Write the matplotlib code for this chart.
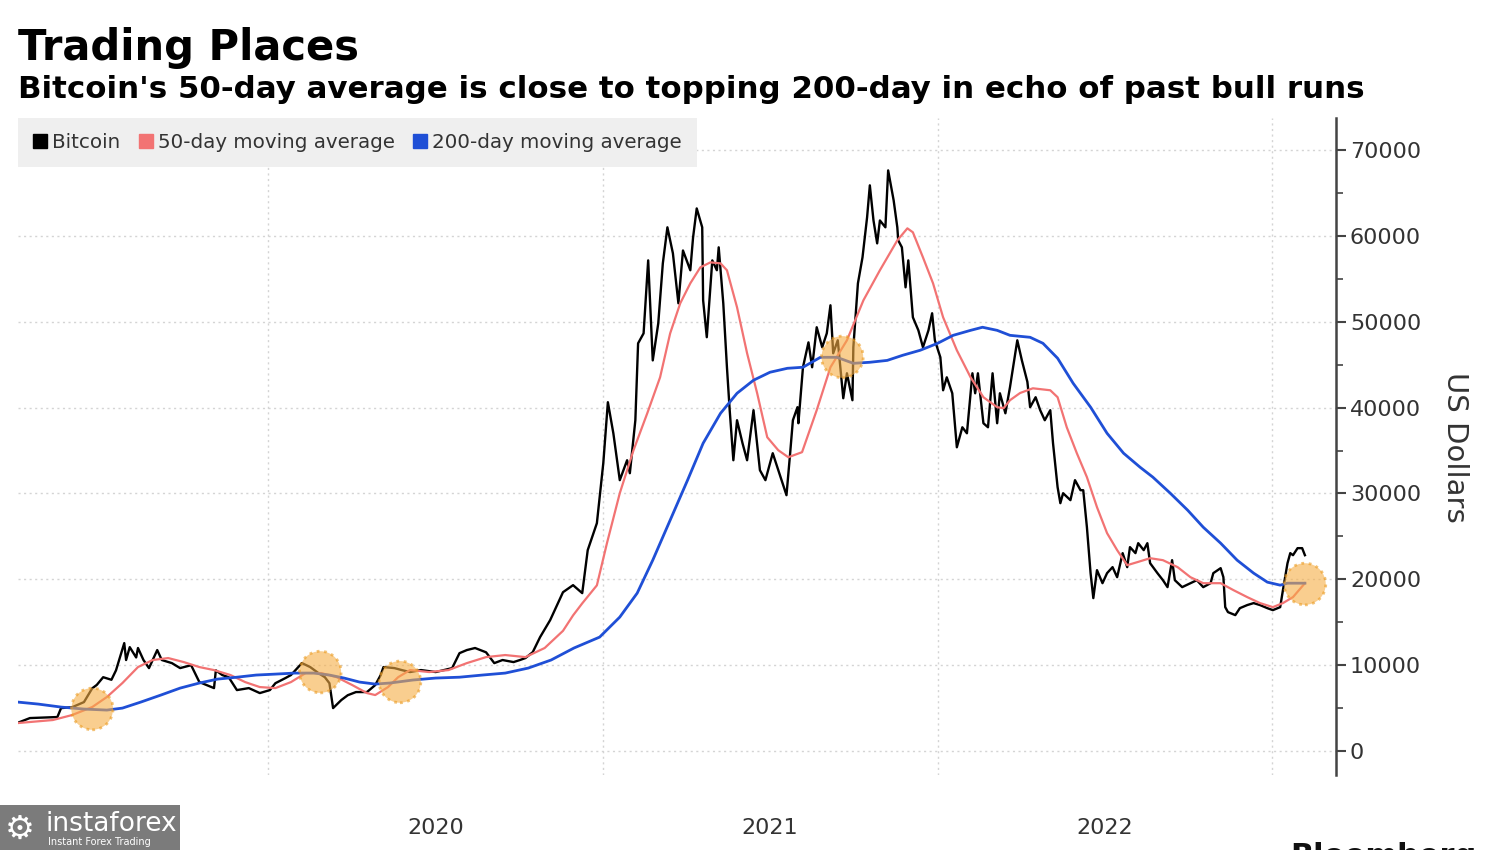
import pandas as pd
import matplotlib
matplotlib.use("Agg")
import matplotlib.pyplot as plt
import matplotlib.dates as mdates
from matplotlib.lines import Line2D
from matplotlib.patches import Rectangle
from matplotlib.ticker import MultipleLocator, FixedLocator

# Bitcoin price (USD)
bitcoin_dates = [
    "2019-04-03", "2019-04-16", "2019-05-16", "2019-05-20", "2019-06-01", "2019-06-14", "2019-06-23",
    "2019-06-28", "2019-07-05", "2019-07-14", "2019-07-19", "2019-07-28", "2019-07-30", "2019-08-03",
    "2019-08-10", "2019-08-12", "2019-08-18", "2019-08-24", "2019-09-02", "2019-09-07", "2019-09-18",
    "2019-09-27", "2019-10-09", "2019-10-18", "2019-11-03", "2019-11-05", "2019-11-12", "2019-11-19",
    "2019-11-28", "2019-12-11", "2019-12-23",
    "2020-01-03", "2020-01-09", "2020-01-20", "2020-01-26", "2020-02-07", "2020-02-16", "2020-02-25",
    "2020-03-03", "2020-03-08", "2020-03-12", "2020-03-21", "2020-03-28", "2020-04-06", "2020-04-18",
    "2020-04-27", "2020-05-03", "2020-05-06", "2020-05-18", "2020-05-26", "2020-06-04", "2020-06-16",
    "2020-07-02", "2020-07-20", "2020-07-28", "2020-08-05", "2020-08-14", "2020-08-26", "2020-09-04",
    "2020-09-13", "2020-09-25", "2020-10-02", "2020-10-08", "2020-10-16", "2020-10-24", "2020-11-04",
    "2020-11-18", "2020-11-29", "2020-12-09", "2020-12-15", "2020-12-25",
    "2021-01-01", "2021-01-06", "2021-01-12", "2021-01-19", "2021-01-27", "2021-01-30",
    "2021-02-05", "2021-02-08", "2021-02-14", "2021-02-19", "2021-02-24",
    "2021-03-02", "2021-03-07", "2021-03-12", "2021-03-18", "2021-03-24", "2021-03-29",
    "2021-04-06", "2021-04-09", "2021-04-13", "2021-04-19", "2021-04-20", "2021-04-24", "2021-04-30",
    "2021-05-05", "2021-05-07", "2021-05-12", "2021-05-16", "2021-05-19", "2021-05-23", "2021-05-27",
    "2021-06-02", "2021-06-07", "2021-06-14", "2021-06-21", "2021-06-27",
    "2021-07-05", "2021-07-10", "2021-07-20", "2021-07-24", "2021-07-27",
    "2021-08-01", "2021-08-02", "2021-08-07", "2021-08-13", "2021-08-17", "2021-08-22", "2021-08-28",
    "2021-09-02", "2021-09-06", "2021-09-09", "2021-09-14", "2021-09-20", "2021-09-24", "2021-09-30",
    "2021-10-01", "2021-10-06", "2021-10-11", "2021-10-16", "2021-10-19", "2021-10-23", "2021-10-27",
    "2021-10-30", "2021-11-05", "2021-11-08", "2021-11-14", "2021-11-18", "2021-11-19", "2021-11-23",
    "2021-11-27", "2021-11-30", "2021-12-05", "2021-12-11", "2021-12-16", "2021-12-22", "2021-12-26",
    "2021-12-29",
    "2022-01-04", "2022-01-07", "2022-01-11", "2022-01-17", "2022-01-22", "2022-01-28",
    "2022-02-02", "2022-02-08", "2022-02-11", "2022-02-14", "2022-02-20", "2022-02-25",
    "2022-03-02", "2022-03-07", "2022-03-10", "2022-03-16", "2022-03-21", "2022-03-29",
    "2022-04-03", "2022-04-09", "2022-04-12", "2022-04-18", "2022-04-23", "2022-04-28",
    "2022-05-04", "2022-05-07", "2022-05-12", "2022-05-15", "2022-05-18", "2022-05-26", "2022-05-31",
    "2022-06-06", "2022-06-09", "2022-06-13", "2022-06-17", "2022-06-20", "2022-06-24", "2022-06-30",
    "2022-07-05", "2022-07-11", "2022-07-16", "2022-07-22", "2022-07-27", "2022-07-30",
    "2022-08-05", "2022-08-08", "2022-08-14", "2022-08-18", "2022-08-21", "2022-08-29",
    "2022-09-04", "2022-09-09", "2022-09-14", "2022-09-17", "2022-09-25",
    "2022-10-04", "2022-10-11", "2022-10-18", "2022-10-26", "2022-10-29",
    "2022-11-06", "2022-11-09", "2022-11-11", "2022-11-14", "2022-11-22", "2022-11-27",
    "2022-12-05", "2022-12-12", "2022-12-19", "2022-12-27",
    "2023-01-02", "2023-01-10", "2023-01-13", "2023-01-18", "2023-01-21", "2023-01-24", "2023-01-29",
    "2023-02-03", "2023-02-06",
]
bitcoin_usd = [
    3300, 3840, 3960, 5000, 5100, 5700, 7300, 7700, 8600, 8300, 9400, 12570, 10600, 12100,
    10900, 12000, 10600, 9660, 11760, 10600, 10240, 9660, 10000, 8030, 7330, 9400, 8850, 8600,
    7100, 7330, 6750,
    7100, 7900, 8500, 8850, 10240, 9780, 9080, 8600, 7900, 5000, 5940, 6500, 6870, 6870,
    7680, 8850, 9780, 9660, 9430, 9200, 9430, 9200, 9660, 11400, 11760, 12000, 11500, 10240,
    10600, 10360, 10600, 10830, 11520, 13270, 15250, 18500, 19320, 18390, 23400, 26540,
    33530, 40630, 37000, 31550, 33870, 32360,
    38530, 47490, 48650, 57150, 45500,
    49800, 56800, 61000, 57970, 52150, 58300,
    56000, 59800, 63200, 61000, 52500, 48200, 57150,
    56000, 58670, 52150, 44700, 39700, 33870, 38530,
    35850, 33870, 39700, 32710, 31550,
    34690, 33060, 29800, 34690, 38530,
    40050, 38180, 44700, 47600, 44700, 49360, 47030,
    48650, 51920, 46330, 47840, 41090, 44000, 40860,
    47030, 54480, 57500, 62160, 65890, 61800, 59130,
    61800, 61000, 67630, 64140, 61000, 59480, 58670,
    54010, 57150, 50520, 49000, 47030, 49000, 50990,
    47840,
    45860, 42020, 43530, 41670, 35380, 37710,
    37010, 44000, 41670, 44000, 38180, 37710,
    44000, 38180, 41670, 39340, 42370, 47840,
    45500, 43000, 40050, 41210, 39700, 38530,
    39700, 35850, 30730, 28870, 30030, 29220, 31550,
    30380, 30380, 26070, 20720, 17810, 21070, 19550,
    20720, 21420, 20250, 23050, 21420, 23750,
    23050, 24210, 23400, 24210, 21880, 20720,
    19900, 19090, 22230, 19900, 19090,
    19550, 19900, 19090, 19550, 20720,
    21300, 20250, 16760, 16180, 15830, 16640,
    17000, 17230, 17000, 16640,
    16410, 16760, 18740, 21880, 23050, 22810, 23630,
    23630, 22810,
]

# 50-day moving average
ma50_dates = [
    "2019-04-03", "2019-05-11", "2019-06-01", "2019-06-23", "2019-07-09", "2019-07-26", "2019-08-12",
    "2019-08-28", "2019-09-14", "2019-10-01", "2019-10-18", "2019-11-03", "2019-11-21", "2019-12-07",
    "2019-12-23", "2020-01-09", "2020-01-26", "2020-02-11", "2020-02-28", "2020-03-16", "2020-04-02",
    "2020-04-18", "2020-04-27", "2020-05-11", "2020-05-22", "2020-06-04", "2020-06-25", "2020-07-16",
    "2020-08-05", "2020-08-26", "2020-09-16", "2020-10-08", "2020-10-29", "2020-11-18", "2020-11-29",
    "2020-12-09", "2020-12-25", "2021-01-05", "2021-01-19", "2021-02-03", "2021-02-18", "2021-03-04",
    "2021-03-15", "2021-03-26", "2021-04-06", "2021-04-17", "2021-04-28", "2021-05-09", "2021-05-16",
    "2021-05-27", "2021-06-07", "2021-06-18", "2021-06-29", "2021-07-11", "2021-07-22", "2021-08-06",
    "2021-08-22", "2021-09-06", "2021-09-24", "2021-10-12", "2021-10-30", "2021-11-18", "2021-11-29",
    "2021-12-05", "2021-12-16", "2021-12-27", "2022-01-07", "2022-01-22", "2022-02-06", "2022-02-20",
    "2022-03-07", "2022-03-14", "2022-03-21", "2022-04-01", "2022-04-15", "2022-05-04", "2022-05-12",
    "2022-05-22", "2022-06-02", "2022-06-13", "2022-06-24", "2022-07-05", "2022-07-16", "2022-07-27",
    "2022-08-07", "2022-08-21", "2022-09-04", "2022-09-20", "2022-10-04", "2022-10-18", "2022-11-06",
    "2022-11-20", "2022-12-05", "2022-12-19", "2023-01-02", "2023-01-13", "2023-01-24", "2023-02-06",
]
ma50_usd = [
    3260, 3610, 4190, 5120, 6290, 7920, 9780,
    10600, 10830, 10360, 9780, 9430, 8850, 8030,
    7450, 7330, 8030, 9080, 9080, 8600, 7680,
    6750, 6520, 7450, 8600, 9430, 9200, 9430,
    10240, 10940, 11180, 10940, 12000, 14000, 15800,
    17200, 19300, 24210, 30030, 35040, 39340, 43530,
    48650, 52150, 54480, 56340, 56920, 56800, 56000,
    51690, 46330, 41670, 36550, 35040, 34220, 34810,
    39700, 44700, 47840, 52500, 56000, 59480, 60880,
    60420, 57500, 54480, 50520, 46680, 43530, 41210,
    40050, 39930, 40860, 41700, 42250, 42020, 41210,
    37710, 34690, 31900, 28400, 25380, 23400, 21650,
    22000, 22460, 22230, 21420, 20250, 19550, 19550,
    18740, 17930, 17230, 16760, 17230, 17930, 19550,
]

# 200-day moving average
ma200_dates = [
    "2019-04-03", "2019-04-25", "2019-05-20", "2019-06-14", "2019-07-09", "2019-07-26", "2019-08-15",
    "2019-09-06", "2019-09-27", "2019-10-18", "2019-11-07", "2019-11-28", "2019-12-19", "2020-01-09",
    "2020-01-30", "2020-02-20", "2020-03-08", "2020-03-24", "2020-04-10", "2020-04-27", "2020-05-13",
    "2020-06-07", "2020-07-02", "2020-07-28", "2020-08-22", "2020-09-16", "2020-10-11", "2020-11-05",
    "2020-11-30", "2020-12-28", "2021-01-19", "2021-02-07", "2021-02-24", "2021-03-15", "2021-04-03",
    "2021-04-20", "2021-05-09", "2021-05-27", "2021-06-14", "2021-07-02", "2021-07-21", "2021-08-07",
    "2021-08-26", "2021-09-13", "2021-10-01", "2021-10-19", "2021-11-07", "2021-11-24", "2021-12-13",
    "2022-01-01", "2022-01-18", "2022-02-06", "2022-02-19", "2022-03-07", "2022-03-21", "2022-04-12",
    "2022-04-26", "2022-05-12", "2022-05-29", "2022-06-17", "2022-07-05", "2022-07-23", "2022-08-10",
    "2022-08-24", "2022-09-12", "2022-10-01", "2022-10-18", "2022-11-06", "2022-11-24", "2022-12-12",
    "2022-12-27", "2023-01-10", "2023-01-18", "2023-02-06",
]
ma200_usd = [
    5700, 5470, 5120, 4890, 4770, 5000, 5700,
    6520, 7330, 7920, 8380, 8600, 8850, 8960,
    9080, 9080, 8850, 8500, 8030, 7800, 7920,
    8270, 8500, 8600, 8850, 9080, 9660, 10600,
    12000, 13270, 15600, 18390, 22230, 26890, 31550,
    35850, 39340, 41670, 43190, 44120, 44580, 44700,
    45860, 45860, 45160, 45280, 45500, 46100, 46680,
    47490, 48420, 49000, 49360, 49000, 48420, 48190,
    47490, 45750, 42830, 40050, 37010, 34690, 33060,
    31900, 30030, 28050, 26070, 24210, 22230, 20720,
    19670, 19320, 19550, 19550,
]

# highlighted crossovers of the two averages
cross_dates = ["2019-06-23", "2020-02-27", "2020-05-24", "2021-09-19", "2023-02-06"]
cross_usd = [4900, 9200, 8050, 45900, 19450]

# year labels sit in the middle of each year
year_label_dates = ["2020-07-02", "2021-07-02", "2022-07-02"]

legend_labels = ["Bitcoin", "50-day moving average", "200-day moving average"]
line_colors = ["#000000", "#f27373", "#1f4fd6"]

plt.rcParams['font.family'] = ['DejaVu Sans']

fig = plt.figure(figsize=(15, 8.5), dpi=100)
ax = fig.add_axes([0.012, 0.0882, 0.8787, 0.7729])

ax.plot(pd.to_datetime(bitcoin_dates), bitcoin_usd, color=line_colors[0], lw=1.7, zorder=3)
ax.plot(pd.to_datetime(ma50_dates), ma50_usd, color=line_colors[1], lw=1.6, zorder=4)
ax.plot(pd.to_datetime(ma200_dates), ma200_usd, color=line_colors[2], lw=2.0, zorder=4)
ax.scatter(pd.to_datetime(cross_dates), cross_usd, s=900, color='#f6ae45', alpha=0.6,
           edgecolors='#eb9a1e', linewidths=2, linestyles=':', zorder=5)

# axes range
ax.set_xlim(pd.Timestamp("2019-04-03"), pd.Timestamp("2023-03-12"))
ax.set_ylim(-2795, 73725)

# y axis on the right
for side in ['top', 'left', 'bottom']:
    ax.spines[side].set_visible(False)
ax.spines['right'].set_color('#444444')
ax.spines['right'].set_linewidth(1.8)
ax.yaxis.tick_right()
ax.set_yticks(range(0, 70001, 10000))
ax.yaxis.set_minor_locator(MultipleLocator(5000))
ax.tick_params(axis='y', which='major', length=7, width=1.5, color='#444444',
               labelsize=16, labelcolor='#333333', pad=3)
ax.tick_params(axis='y', which='minor', length=5, width=1.2, color='#444444')

# year boundaries as grid lines, year labels in the middle
ax.xaxis.set_major_locator(mdates.YearLocator())
ax.xaxis.set_major_formatter(plt.NullFormatter())
ax.xaxis.set_minor_locator(FixedLocator(mdates.date2num(pd.to_datetime(year_label_dates))))
ax.xaxis.set_minor_formatter(mdates.DateFormatter('%Y'))
ax.tick_params(axis='x', which='major', length=0)
ax.tick_params(axis='x', which='minor', length=0, pad=31, labelsize=16, labelcolor='#333333')

ax.grid(True, which='major', linestyle=(0, (1.5, 2.5)), color='#d4d4d4', lw=1)

# legend
handles = [Line2D([], [], marker='s', ls='none', markersize=10, color=c) for c in line_colors]
leg = ax.legend(handles, legend_labels, loc='upper left', bbox_to_anchor=(0, 1), ncol=3,
                frameon=True, facecolor='#efefef', edgecolor='none', fancybox=False,
                fontsize=14.3, handlelength=0.7, handletextpad=0.25, columnspacing=0.95,
                borderpad=0.75, borderaxespad=0, labelcolor='#333333')
leg.get_frame().set_alpha(1)

# titles and axis label
fig.text(18 / 1500, 1 - 60 / 850, "Trading Places", fontsize=30, fontweight='bold', va='baseline')
fig.text(18 / 1500, 1 - 98 / 850,
         "Bitcoin's 50-day average is close to topping 200-day in echo of past bull runs",
         fontsize=22.2, fontweight='bold', va='baseline')
fig.text(1455 / 1500, 1 - 447 / 850, "US Dollars", rotation=270, ha='center', va='center',
         fontsize=21, color='#333333')

# source logo, cut off at the bottom edge as in the original
fig.text(1290 / 1500, 1 - 842 / 850, "Bloomberg", fontsize=22, fontweight='bold', va='top', color='#111111')

# watermark
fig.patches.append(Rectangle((0, 0), 180 / 1500, 45 / 850, transform=fig.transFigure,
                             facecolor='#7b7b7b', edgecolor='none', zorder=1))
fig.text(5 / 1500, 1 - 829 / 850, "\u2699", fontsize=24, color='white', va='center', zorder=2)
fig.text(46 / 1500, 1 - 824 / 850, "instaforex", fontsize=19, color='white', va='center', zorder=2)
fig.text(48 / 1500, 1 - 842 / 850, "Instant Forex Trading", fontsize=7, color='white', va='center', zorder=2)

plt.savefig('out.png', dpi=100)
plt.close()
